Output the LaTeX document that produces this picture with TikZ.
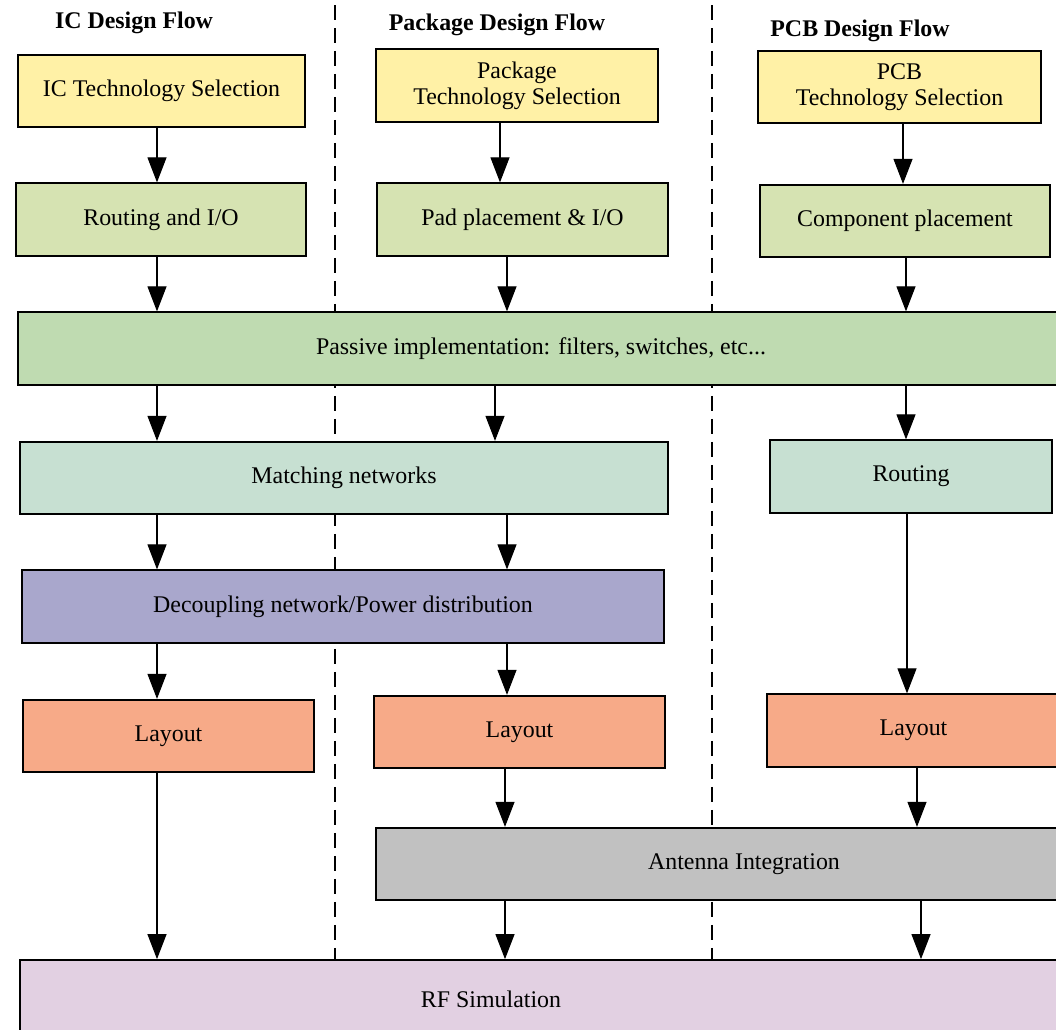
\documentclass[tikz,border=0pt]{standalone}
\usepackage{fontspec}
\setmainfont{Liberation Serif}
\usepackage{tikz}
\usetikzlibrary{arrows.meta}
\usetikzlibrary{calc}

\definecolor{techyellow}{RGB}{255,241,166}
\definecolor{placegreen}{RGB}{214,227,178}
\definecolor{passivegreen}{RGB}{191,219,177}
\definecolor{matchcyan}{RGB}{199,224,210}
\definecolor{decouplepurple}{RGB}{169,167,204}
\definecolor{layoutorange}{RGB}{247,170,136}
\definecolor{antennagray}{RGB}{193,193,193}
\definecolor{simpink}{RGB}{226,208,226}

\tikzset{
	flowbox/.style={draw=black, line width=1pt, inner sep=0pt, minimum height=1.45cm,
		align=center, font=\fontsize{13.6}{15}\selectfont},
	flowtitle/.style={font=\fontsize{13.6}{15}\selectfont\bfseries},
	flowtext/.style={font=\fontsize{13.6}{15}\selectfont},
	>={Triangle[width=3.8mm,length=5mm]}
}

\begin{document}
\begin{tikzpicture}[x=0.02cm, y=-0.02cm]
\useasboundingbox (0,0) rectangle (1056,1029);
\clip (0,0) rectangle (1056,1029);
% column separators
\coordinate (sepa-top) at (335,5);
\coordinate (sepa-bot) at (335,960);
\coordinate (sepb-top) at (712,5);
\coordinate (sepb-bot) at (712,960);
\draw[dashed, line width=1pt, dash pattern=on 0.3cm off 0.16cm] (sepa-top) -- (sepa-bot);
\draw[dashed, line width=1pt, dash pattern=on 0.3cm off 0.16cm] (sepb-top) -- (sepb-bot);

% titles
\node[flowtitle] (ictitle) at (134,23) {IC Design Flow};
\node[flowtitle] (pkgtitle) at (497,25) {Package Design Flow};
\node[flowtitle] (pcbtitle) at (860,31) {PCB Design Flow};

% IC column
\node[flowbox, fill=techyellow, minimum width=5.74cm] (ictech) at (161.5,91) {IC Technology Selection};
\node[flowbox, fill=placegreen, minimum width=5.8cm] (icroute) at (161,219.5) {Routing and I/O};
% package column
\node[flowbox, fill=techyellow, minimum width=5.64cm] (pkgtech) at (517,85.5) {Package\\Technology Selection};
\node[flowbox, fill=placegreen, minimum width=5.82cm] (pkgpad) at (522.5,219.5) {Pad placement \& I/O};
% PCB column
\node[flowbox, fill=techyellow, minimum width=5.66cm] (pcbtech) at (899.5,87) {PCB\\Technology Selection};
\node[flowbox, fill=placegreen, minimum width=5.8cm] (pcbcomp) at (905,221) {Component placement};

% shared rows
\node[flowbox, fill=passivegreen, minimum width=20.92cm] (passive) at (541,348.5) {Passive implementation: filters, switches, etc...};
\node[flowbox, fill=matchcyan, minimum width=12.96cm] (match) at (344,478) {Matching networks};
\node[flowbox, fill=matchcyan, minimum width=5.64cm] (pcbroute) at (911,476.5) {Routing};
\node[flowbox, fill=decouplepurple, minimum width=12.84cm] (decouple) at (343,606.5) {Decoupling network/Power distribution};

\node[flowbox, fill=layoutorange, minimum width=5.82cm] (iclayout) at (168.5,736) {Layout};
\node[flowbox, fill=layoutorange, minimum width=5.82cm] (pkglayout) at (519.5,732) {Layout};
\node[flowbox, fill=layoutorange, minimum width=5.86cm] (pcblayout) at (913.5,730.5) {Layout};

\node[flowbox, fill=antennagray, minimum width=14.72cm] (antenna) at (744,864) {Antenna Integration};
\node[flowbox, fill=simpink, minimum width=21cm, minimum height=1.6cm] (rfsim) at (545,1000) {};
\node[flowtext] (rftext) at (491,999) {RF Simulation};

% arrow columns
\coordinate (icx) at (157,0);
\coordinate (pkgx) at (505,0);
\coordinate (pcbx) at (906,0);

\path[->, line width=0.6pt]
(icx |- ictech.south) edge (icx |- icroute.north)
(icx |- icroute.south) edge (icx |- passive.north)
(icx |- passive.south) edge (icx |- match.north)
(icx |- match.south) edge (icx |- decouple.north)
(icx |- decouple.south) edge (icx |- iclayout.north)
(icx |- iclayout.south) edge (icx |- rfsim.north)
;
\path[->, line width=0.6pt]
([xshift=-0.1cm]pkgx |- pkgtech.south) edge ([xshift=-0.1cm]pkgx |- pkgpad.north)
([xshift=0.04cm]pkgx |- pkgpad.south) edge ([xshift=0.04cm]pkgx |- passive.north)
([xshift=-0.2cm]pkgx |- passive.south) edge ([xshift=-0.2cm]pkgx |- match.north)
([xshift=0.04cm]pkgx |- match.south) edge ([xshift=0.04cm]pkgx |- decouple.north)
([xshift=0.04cm]pkgx |- decouple.south) edge ([xshift=0.04cm]pkgx |- pkglayout.north)
(pkgx |- pkglayout.south) edge (pkgx |- antenna.north)
(pkgx |- antenna.south) edge (pkgx |- rfsim.north)
;
\path[->, line width=0.6pt]
([xshift=-0.06cm]pcbx |- pcbtech.south) edge ([xshift=-0.06cm]pcbx |- pcbcomp.north)
(pcbx |- pcbcomp.south) edge (pcbx |- passive.north)
(pcbx |- passive.south) edge (pcbx |- pcbroute.north)
([xshift=0.02cm]pcbx |- pcbroute.south) edge ([xshift=0.02cm]pcbx |- pcblayout.north)
([xshift=0.22cm]pcbx |- pcblayout.south) edge ([xshift=0.22cm]pcbx |- antenna.north)
([xshift=0.3cm]pcbx |- antenna.south) edge ([xshift=0.3cm]pcbx |- rfsim.north)
;
\end{tikzpicture}
\end{document}
